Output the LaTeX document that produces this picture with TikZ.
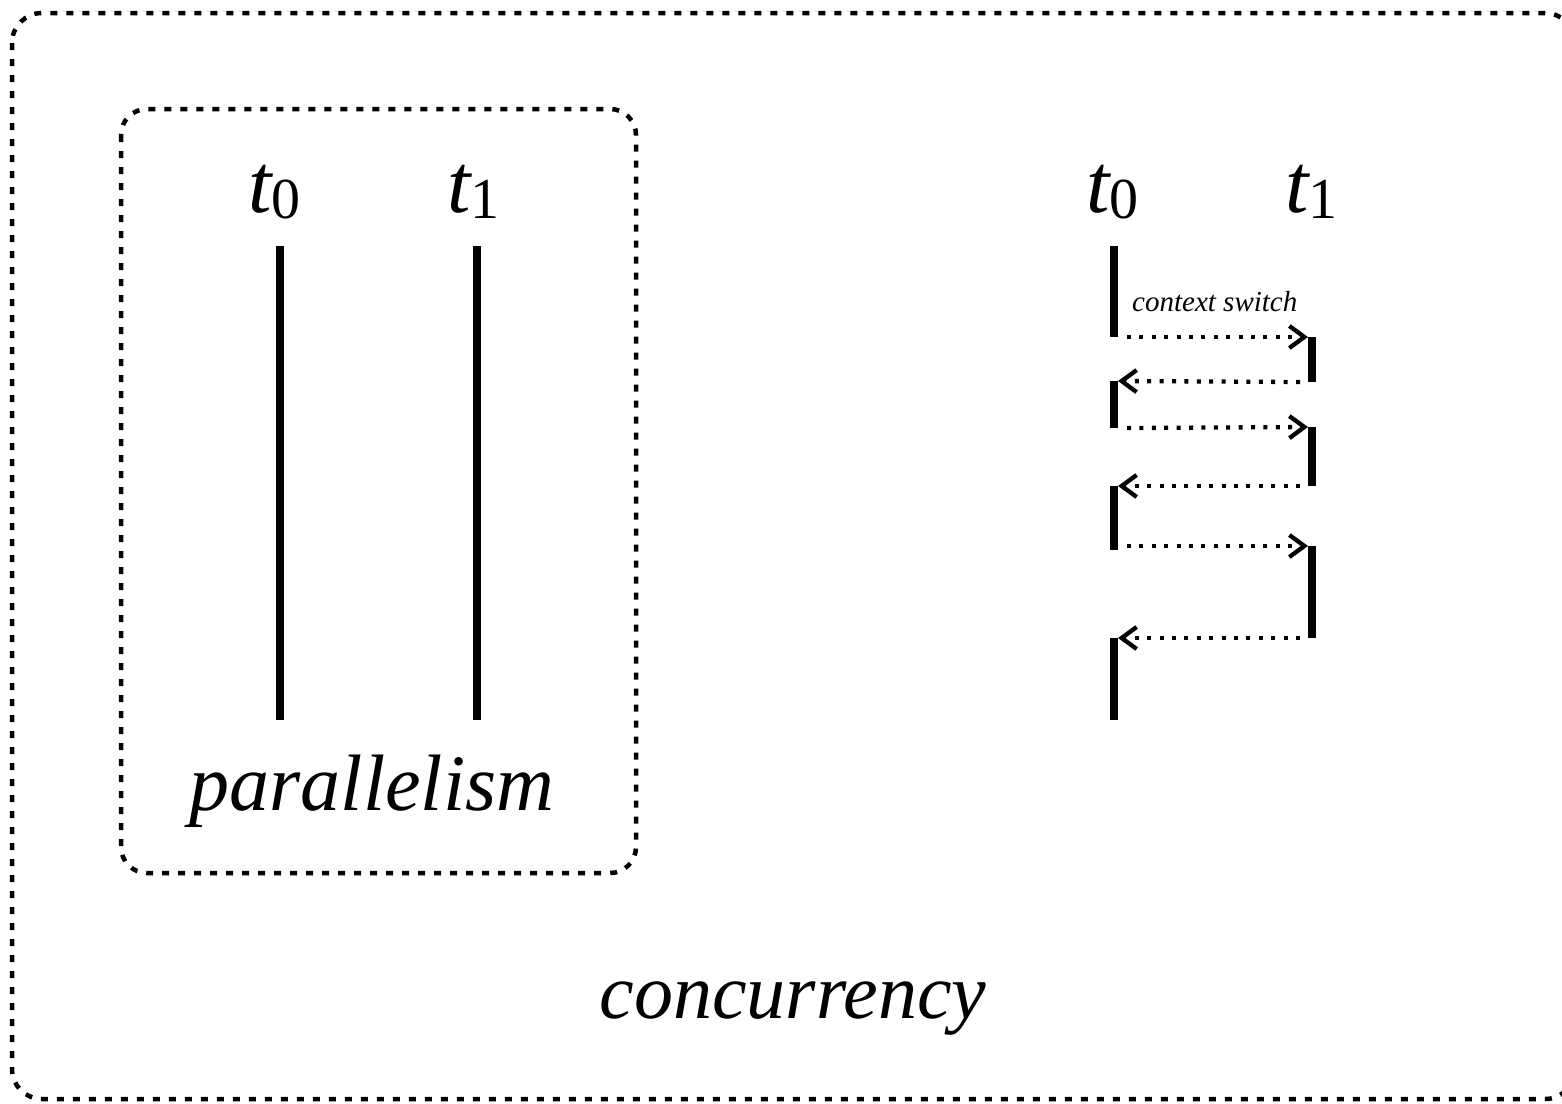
\documentclass[tikz,border=0pt]{standalone}
\usepackage{fontspec}
\setmainfont{Liberation Serif}
\usetikzlibrary{arrows.meta}
\tikzset{
  outerbox/.style={line width=4.5pt, dash pattern=on 7pt off 9pt, rounded corners=30pt},
  innerbox/.style={line width=4.5pt, dash pattern=on 7pt off 9pt, rounded corners=26pt},
  tline/.style={line width=7.5pt},
  cswitch/.style={line width=4.3pt, dash pattern=on 4pt off 8.4pt, -{Straight Barb[length=15pt,width=22pt,line width=4.3pt]}},
  lbl/.style={inner sep=0pt, font=\fontsize{80}{90}\selectfont\itshape},
  tlbl/.style={inner sep=0pt, anchor=base west},
}
\newcommand{\thr}[1]{{\fontsize{84}{90}\selectfont\itshape t}\raisebox{-6pt}{\fontsize{58}{60}\selectfont\upshape #1}}
\begin{document}
\begin{tikzpicture}[x=1pt,y=-1pt]
\useasboundingbox (0,0) rectangle (1562,1103);
\begin{scope}
\clip (0,0) rectangle (1562,1103);
\draw[outerbox] (12,13) rectangle (1575,1099);
\end{scope}
\draw[innerbox] (121,109) rectangle (636,873);
% labels
\node[tlbl] (lt0) at (248,212) {\thr{0}};
\node[tlbl] (lt1) at (447,212) {\thr{1}};
\node[tlbl] (rt0) at (1086,212) {\thr{0}};
\node[tlbl] (rt1) at (1285,212) {\thr{1}};
\node[lbl, anchor=base] (par) at (372,810) {parallelism};
\node[lbl, anchor=base, font=\fontsize{78}{90}\selectfont\itshape] (conc) at (793,1018) {concurrency};
\node[inner sep=0pt, anchor=base west, font=\fontsize{29}{30}\selectfont\itshape] (cs) at (1132,311) {context switch};
% parallel timelines
\coordinate (p0a) at (280,246); \coordinate (p0b) at (280,720);
\coordinate (p1a) at (477,246); \coordinate (p1b) at (477,720);
\draw[tline] (p0a) -- (p0b);
\draw[tline] (p1a) -- (p1b);
% concurrent timelines
\coordinate (a0) at (1114,246);
\coordinate (a1) at (1114,337);
\coordinate (b0) at (1312,337);
\coordinate (b1) at (1312,382);
\coordinate (a2) at (1114,381);
\coordinate (a3) at (1114,428);
\coordinate (b2) at (1312,427);
\coordinate (b3) at (1312,486);
\coordinate (a4) at (1114,486);
\coordinate (a5) at (1114,550);
\coordinate (b4) at (1312,546);
\coordinate (b5) at (1312,638);
\coordinate (a6) at (1114,638);
\coordinate (a7) at (1114,720);
\draw[tline] (a0) -- (a1);
\draw[tline] (b0) -- (b1);
\draw[tline] (a2) -- (a3);
\draw[tline] (b2) -- (b3);
\draw[tline] (a4) -- (a5);
\draw[tline] (b4) -- (b5);
\draw[tline] (a6) -- (a7);
% context switches
\draw[cswitch] ([xshift=13pt]a1) -- ([xshift=-4pt]b0);
\draw[cswitch] ([xshift=-12pt]b1) -- ([xshift=4pt]a2);
\draw[cswitch] ([xshift=13pt]a3) -- ([xshift=-4pt]b2);
\draw[cswitch] ([xshift=-12pt]b3) -- ([xshift=4pt]a4);
\draw[cswitch] (a5 |- b4) ++(13,0) -- ([xshift=-4pt]b4);
\draw[cswitch] ([xshift=-12pt]b5) -- ([xshift=4pt]a6);
\end{tikzpicture}
\end{document}
